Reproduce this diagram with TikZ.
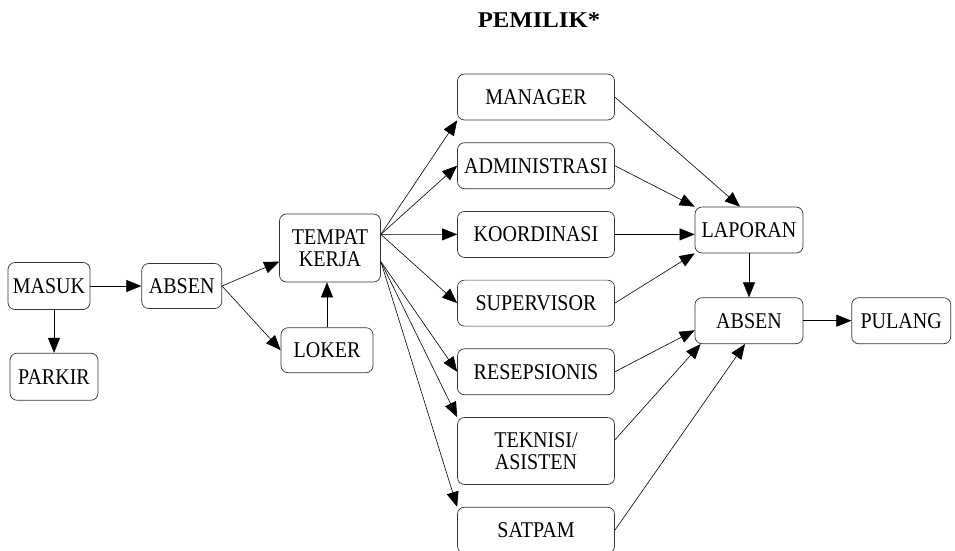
\documentclass[tikz,border=0pt]{standalone}
\usepackage{fontspec}
\setmainfont{Liberation Serif}[FakeStretch=0.89]
\newfontfamily\judulfont{Liberation Serif}[FakeStretch=1.1]
\usetikzlibrary{positioning, arrows.meta}

\begin{document}
\begin{tikzpicture}[
  x=1pt, y=-1pt,
  node distance = 22pt and 48pt,
  every node/.style = {font=\fontsize{22.5}{22}\selectfont},
  box/.style = {draw=black!80, line width=0.7pt, rounded corners=7pt, inner sep=0pt,
                minimum height=46pt, align=center},
  col/.style = {box, minimum width=157pt},
  arr/.style = {-{Triangle[length=15pt, width=12pt]}, line width=0.6pt}
]
\useasboundingbox (0,0) rectangle (955,550);

\node[font=\judulfont\fontsize{22.5}{24}\selectfont\bfseries] (pemilik) at (539,20) {PEMILIK*};

\node[box, minimum width=82pt, minimum height=47pt] (masuk) at (49,286) {MASUK};
\node[box, minimum width=88pt, minimum height=47pt, below=43pt of masuk, xshift=5pt] (parkir) {PARKIR};
\node[box, minimum width=80pt, minimum height=45pt, right=51pt of masuk] (absen) {ABSEN};
\node[box, minimum width=101pt, minimum height=68pt] (tempat) at (330,248) {TEMPAT\\KERJA};
\node[box, minimum width=92pt, minimum height=45pt, below=45pt of tempat, xshift=-3pt] (loker) {LOKER};

% kolom bagian
\node[col] (manager) at (536,97) {MANAGER};
\node[col, below=of manager]     (admin)       {ADMINISTRASI};
\node[col, below=of admin]       (koordinasi)  {KOORDINASI};
\node[col, below=of koordinasi]  (supervisor)  {SUPERVISOR};
\node[col, below=of supervisor]  (resepsionis) {RESEPSIONIS};
\node[col, minimum height=67pt, below=of resepsionis] (teknisi) {TEKNISI/\\ASISTEN};
\node[col, below=of teknisi]     (satpam)      {SATPAM};

\node[box, minimum width=108pt] (laporan) at (749,230) {LAPORAN};
\node[box, minimum width=108pt, below=44pt of laporan] (absenb) {ABSEN};
\node[box, minimum width=99pt, right=48pt of absenb]   (pulang) {PULANG};

\draw[arr] (masuk) -- (absen);
\draw[arr] (parkir.north |- masuk.south) -- (parkir);
\draw[arr] (absen.east) -- (tempat.195);
\draw[arr] (absen.east) -- (loker.west);
\draw[arr] (loker.north) -- (loker.north |- tempat.south);

% tempat kerja -> bagian
\draw[arr] (tempat.15) -- (manager.south west);
\draw[arr] (tempat.15) -- (admin.west);
\draw[arr] (tempat.15) -- (koordinasi.west);
\draw[arr] (tempat.15) -- (supervisor.west);
\draw[arr] (tempat.-15) -- (resepsionis.west);
\draw[arr] (tempat.-15) -- (teknisi.north west);
\draw[arr] (tempat.-15) -- (satpam.north west);

% bagian -> laporan / absen
\draw[arr] (manager.east) -- ([xshift=-9pt]laporan.north);
\draw[arr] (admin.east) -- (laporan.north west);
\draw[arr] (koordinasi.east) -- (koordinasi.east -| laporan.west);
\draw[arr] (supervisor.east) -- (laporan.south west);
\draw[arr] (resepsionis.east) -- (absenb.190);
\draw[arr] (teknisi.8) -- ([xshift=6pt]absenb.south west);
\draw[arr] (satpam.east) -- ([xshift=-4pt]absenb.south);
\draw[arr] (laporan) -- (absenb);
\draw[arr] (absenb) -- (pulang);

\end{tikzpicture}
\end{document}
